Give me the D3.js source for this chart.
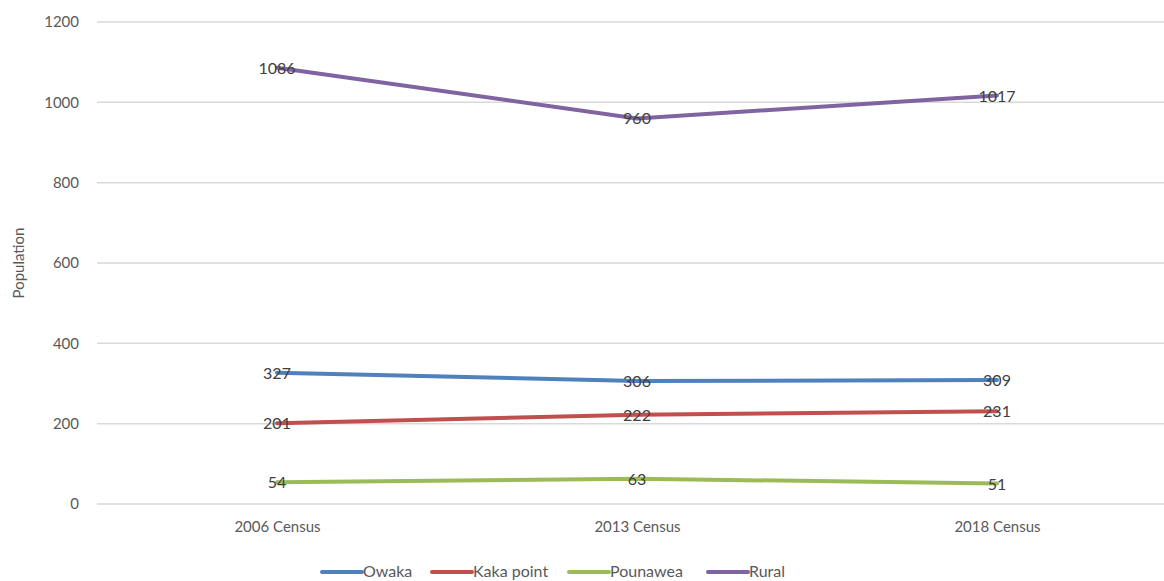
<!DOCTYPE html>
<html>
<head>
<meta charset="utf-8">
<script src="https://cdn.jsdelivr.net/npm/d3@7"></script>
<style>
  body { margin: 0; background: #fff; }
  text { font-family: Lato, "Open Sans", sans-serif; }
</style>
</head>
<body>
<div id="chart"></div>
<script>
// chart data
var censuses = ["2006 Census", "2013 Census", "2018 Census"];
var seriesNames = ["Owaka", "Kaka point", "Pounawea", "Rural"];
var owaka = [327, 306, 309];
var kakaPoint = [201, 222, 231];
var pounawea = [54, 63, 51];
var rural = [1086, 960, 1017];
var yTicks = [0, 200, 400, 600, 800, 1000, 1200];
var colors = ["#4F81BD", "#C0504D", "#9BBB59", "#8064A2"];

var allSeries = [owaka, kakaPoint, pounawea, rural];

var width = 1164, height = 581;

var svg = d3.select("#chart")
  .append("svg")
    .attr("width", width)
    .attr("height", height);

// x: one band per census, points in the middle
var x = d3.scalePoint()
  .domain(censuses)
  .range([277, 997]);

var y = d3.scaleLinear()
  .domain([0, 1200])
  .range([504, 22]);

// gridlines
svg.append("g")
  .selectAll("line")
  .data(yTicks)
  .enter().append("line")
    .attr("x1", 97)
    .attr("x2", width)
    .attr("y1", function(d) { return y(d); })
    .attr("y2", function(d) { return y(d); })
    .attr("stroke", "#d9d9d9")
    .attr("stroke-width", 1.5);

// y axis labels
var yAxis = svg.append("g")
  .attr("transform", "translate(79,0)")
  .call(d3.axisLeft(y).tickValues(yTicks).tickFormat(d3.format("d")).tickSize(0).tickPadding(0));
yAxis.select(".domain").remove();
yAxis.selectAll("text")
  .attr("fill", "#595959")
  .style("font-size", "15px")
  .style("font-family", "Lato, sans-serif");

// x axis labels
var xAxis = svg.append("g")
  .attr("transform", "translate(0,521)")
  .call(d3.axisBottom(x).tickSize(0).tickPadding(0));
xAxis.select(".domain").remove();
xAxis.selectAll("text")
  .attr("fill", "#595959")
  .attr("dy", "0.71em")
  .style("font-size", "15px")
  .style("font-family", "Lato, sans-serif");

// y title
svg.append("text")
  .attr("transform", "translate(24,263) rotate(-90)")
  .attr("text-anchor", "middle")
  .attr("fill", "#595959")
  .style("font-size", "15px")
  .text("Population");

var line = d3.line()
  .x(function(d, i) { return x(censuses[i]); })
  .y(function(d) { return y(d); });

// lines
allSeries.forEach(function(vals, s) {
  svg.append("path")
    .datum(vals)
    .attr("fill", "none")
    .attr("stroke", colors[s])
    .attr("stroke-width", 4)
    .attr("stroke-linecap", "round")
    .attr("d", line);
});

// value labels, centred on the points
allSeries.forEach(function(vals, s) {
  svg.append("g")
    .selectAll("text")
    .data(vals)
    .enter().append("text")
      .attr("x", function(d, i) { return x(censuses[i]); })
      .attr("y", function(d) { return y(d) + 6; })
      .attr("text-anchor", "middle")
      .attr("fill", "#404040")
      .style("font-size", "16px")
      .text(function(d) { return d; });
});

// legend
var legendX = [322, 432, 569, 708];
var legend = svg.append("g")
  .selectAll("g")
  .data(seriesNames)
  .enter().append("g")
    .attr("transform", function(d, i) { return "translate(" + legendX[i] + ",572)"; });
legend.append("line")
  .attr("x1", 0).attr("x2", 40)
  .attr("stroke", function(d, i) { return colors[i]; })
  .attr("stroke-width", 4)
  .attr("stroke-linecap", "round");
legend.append("text")
  .attr("x", 41)
  .attr("y", 5)
  .attr("fill", "#595959")
  .style("font-size", "16px")
  .text(function(d) { return d; });
</script>
</body>
</html>
